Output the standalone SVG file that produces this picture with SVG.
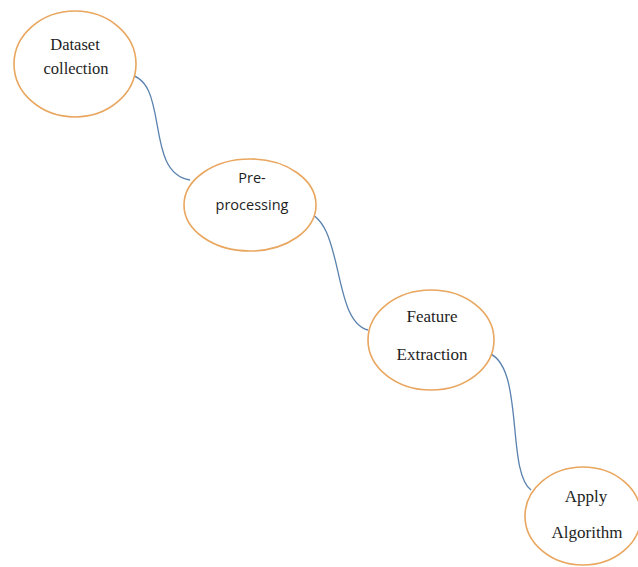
<svg xmlns="http://www.w3.org/2000/svg" width="638" height="567" viewBox="0 0 638 567">
  <style>
    .node { fill: #ffffff; stroke: #E9A65F; stroke-width: 1.6; }
    .serif { font-family: "Liberation Serif", "Times New Roman", serif; font-size: 17px; fill: #1e1e1e; text-anchor: middle; }
    .sans { font-family: "Open Sans", "Noto Sans", sans-serif; font-size: 14.5px; fill: #1e1e1e; text-anchor: middle; }
    .link { fill: none; stroke: #5A82AE; stroke-width: 1.3; }
  </style>
  <rect width="638" height="567" fill="#ffffff"/>

  <g id="connectors">
    <path class="link" d="M126,74 C172,78 142,172 190,180"/>
    <path class="link" d="M302,211 C346,216 330,320 368,330"/>
    <path class="link" d="M485,352 C526,360 505,470 531,490"/>
  </g>

  <g id="dataset-collection">
    <ellipse class="node" cx="75" cy="64" rx="61" ry="53"/>
    <text class="serif" x="75" y="50" style="font-size:16.5px">Dataset</text>
    <text class="serif" x="76" y="74" style="font-size:16.5px">collection</text>
  </g>

  <g id="pre-processing">
    <ellipse class="node" cx="250" cy="205" rx="66" ry="46"/>
    <text class="sans" x="252" y="183">Pre-</text>
    <text class="sans" x="252" y="210">processing</text>
  </g>

  <g id="feature-extraction">
    <ellipse class="node" cx="431" cy="340" rx="63" ry="50"/>
    <text class="serif" x="432" y="322">Feature</text>
    <text class="serif" x="432" y="360">Extraction</text>
  </g>

  <g id="apply-algorithm">
    <ellipse class="node" cx="583" cy="516" rx="58" ry="49"/>
    <text class="serif" x="586" y="502">Apply</text>
    <text class="serif" x="587" y="538">Algorithm</text>
  </g>
</svg>
